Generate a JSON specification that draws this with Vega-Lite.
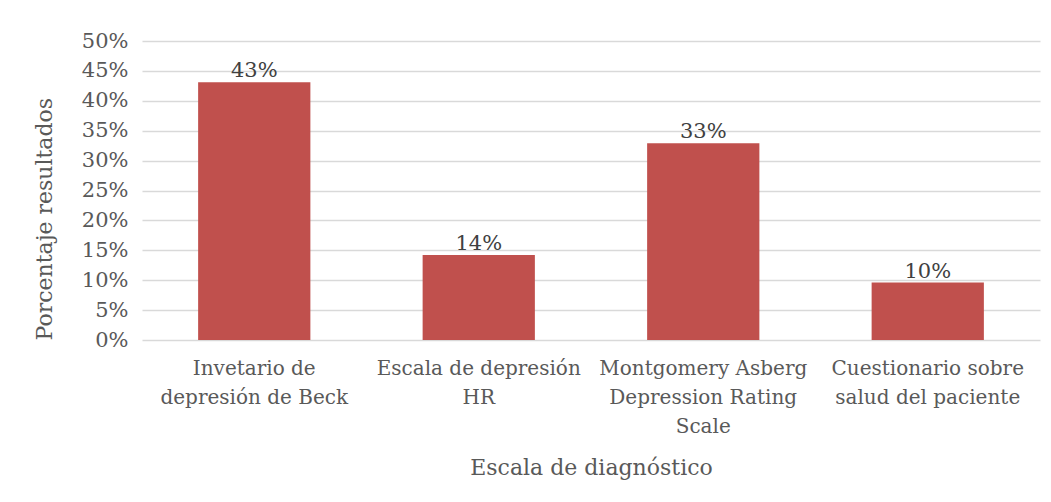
{
  "$schema": "https://vega.github.io/schema/vega-lite/v6.json",
  "width": 898,
  "height": 299,
  "autosize": {"type": "none"},
  "padding": {"left": 142, "top": 41, "right": 11, "bottom": 162},
  "background": "white",
  "config": {"font": "DejaVu Serif", "view": {"stroke": null}},
  "data": {
    "values": [
      {"escala": "Invetario de depresión de Beck", "valor": 0.431},
      {"escala": "Escala de depresión HR", "valor": 0.142},
      {"escala": "Montgomery Asberg Depression Rating Scale", "valor": 0.329},
      {"escala": "Cuestionario sobre salud del paciente", "valor": 0.096}
    ]
  },
  "encoding": {
    "x": {
      "field": "escala",
      "type": "nominal",
      "sort": null,
      "scale": {"paddingInner": 0.5, "paddingOuter": 0.25},
      "axis": {
        "title": "Escala de diagnóstico",
        "labelAngle": 0,
        "labelExpr": "datum.value == 'Invetario de depresión de Beck' ? ['Invetario de', 'depresión de Beck'] : datum.value == 'Escala de depresión HR' ? ['Escala de depresión', 'HR'] : datum.value == 'Montgomery Asberg Depression Rating Scale' ? ['Montgomery Asberg', 'Depression Rating', 'Scale'] : ['Cuestionario sobre', 'salud del paciente']",
        "labelFontSize": 20,
        "labelLineHeight": 29,
        "labelColor": "#595959",
        "labelPadding": 18,
        "labelLimit": 300,
        "domain": false,
        "ticks": false,
        "titleFontSize": 22,
        "titleFontWeight": "normal",
        "titleColor": "#595959",
        "titlePadding": 21
      }
    },
    "y": {
      "field": "valor",
      "type": "quantitative",
      "scale": {"domain": [0, 0.5], "nice": false},
      "axis": {
        "title": "Porcentaje resultados",
        "format": ".0%",
        "values": [0, 0.05, 0.1, 0.15, 0.2, 0.25, 0.3, 0.35, 0.4, 0.45, 0.5],
        "labelFontSize": 21,
        "labelColor": "#595959",
        "labelPadding": 14,
        "domain": false,
        "ticks": false,
        "gridColor": "#D9D9D9",
        "gridWidth": 1.5,
        "titleFontSize": 22,
        "titleFontWeight": "normal",
        "titleColor": "#595959",
        "titlePadding": 25,
        "titleAnchor": "start"
      }
    }
  },
  "layer": [
    {"mark": {"type": "bar", "color": "#C0504D"}},
    {
      "mark": {"type": "text", "baseline": "bottom", "dy": -1, "fontSize": 21, "color": "#404040"},
      "encoding": {"text": {"field": "valor", "format": ".0%"}}
    }
  ]
}
